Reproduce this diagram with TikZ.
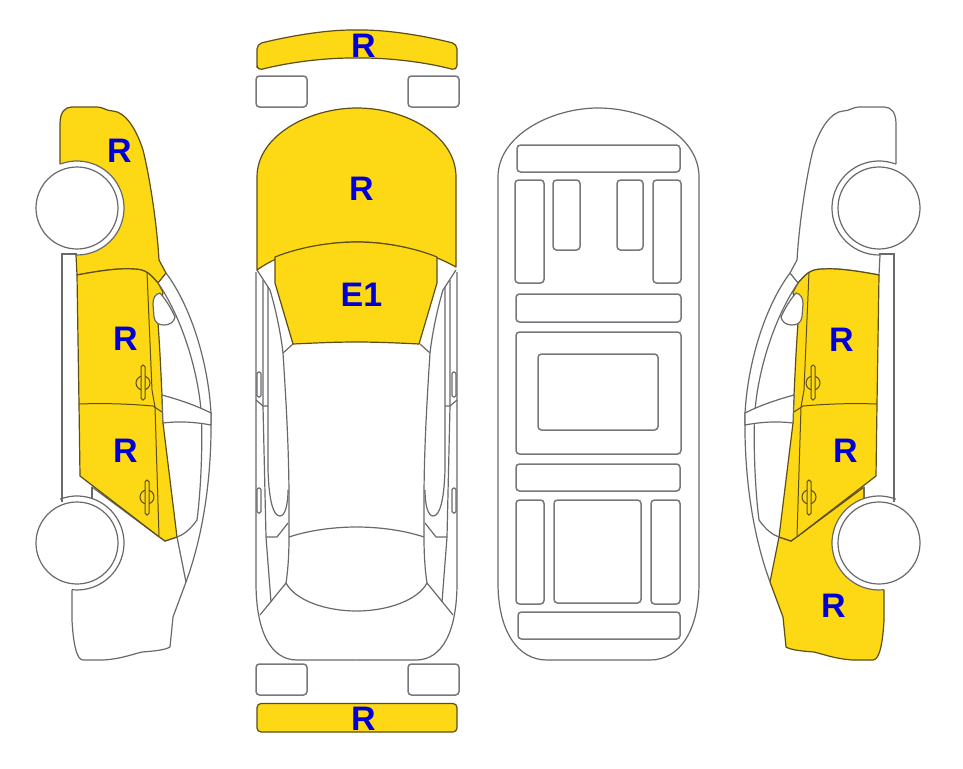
\documentclass[tikz,border=0pt]{standalone}
\usepackage{fontspec}
\newfontfamily\labelfont{Liberation Sans}
\definecolor{partyellow}{RGB}{253,216,20}
\definecolor{paintline}{RGB}{92,78,20}
\definecolor{plainline}{RGB}{105,105,108}
\definecolor{slotline}{RGB}{120,120,124}
\definecolor{labelblue}{RGB}{0,0,214}
\tikzset{
	painted/.style={fill=partyellow,draw=paintline,line width=1.2pt,line join=round},
	plain/.style={fill=white,draw=plainline,line width=1.2pt,line join=round},
	outline/.style={draw=plainline,line width=1.2pt,line join=round},
	doorline/.style={draw=paintline,line width=1pt},
	slot/.style={draw=slotline,line width=1.5pt,rounded corners=3.5pt},
	partlabel/.style={text=labelblue,font=\labelfont\bfseries\fontsize{34}{34}\selectfont,inner sep=0pt}
}
% one side view, #1 is the style of the front wing and #2 of the rear wing
\newcommand{\carside}[2]{
	\path[#1] (60,164) -- (60,124) .. controls (60,112) and (65,107) .. (72,107) -- (96,107) .. controls (104,107) and (106,111) .. (113,111) .. controls (125,112) and (136,128) .. (143,150) .. controls (150,178) and (157,225) .. (159,260) -- (166,273) -- (158,283) .. controls (150,274) and (146,269) .. (133,269) .. controls (118,268) and (98,271) .. (77,275) -- (76,255) -- cycle;
	\path[#2] (72,589) -- (72,620) .. controls (73,640) and (76,660) .. (83,660) -- (103,660) .. controls (120,659) and (130,655) .. (142,652) .. controls (155,651) and (165,650) .. (170,647) -- (173,617) -- (186,582) -- (177,537) -- (165,541) -- (158,536) -- (92,487) -- (92,498) -- cycle;
	\path[painted] (77,275) .. controls (98,271) and (118,268) .. (133,269) .. controls (146,269) and (150,274) .. (158,283) -- (163,292) -- (158,323) .. controls (160,350) and (161,375) .. (162,395) -- (163,423) -- (177,537) -- (165,541) -- (158,536) -- (80,476) -- (79,404) -- cycle;
	\draw[doorline] (79,404) .. controls (105,403) and (130,404) .. (153,406) -- (162,412);
	\draw[doorline] (147,272) -- (152,390) -- (155,407) -- (159,536);
	\draw[outline] (166,273) .. controls (190,305) and (208,360) .. (211,413) .. controls (212,470) and (205,530) .. (186,582);
	\draw[outline] (158,283) .. controls (180,315) and (197,365) .. (201,410) .. controls (203,440) and (201,490) .. (197,520) .. controls (190,530) and (183,535) .. (177,537);
	\path[plain] (160,293) .. controls (155,294) and (153,298) .. (153,304) -- (154,317) .. controls (155,323) and (159,325) .. (164,325) .. controls (170,325) and (174,322) .. (175,317) .. controls (171,308) and (166,300) .. (160,293);
	\path[plain] (162,395) .. controls (180,400) and (195,405) .. (211,413) -- (211,425) .. controls (195,422) and (180,421) .. (163,423) -- cycle;
	\foreach \cy/\sa/\sb in {208/-111/91,543/-111/96}{
		\fill[white] (77,\cy) circle (47);
		\draw[outline] (77,\cy) ++(\sa:47) arc[start angle=\sa,end angle=\sb,radius=47];
		\path[plain] (77,\cy) circle (41);
	}
	\draw[outline] (61,254) -- (77,254) (62,254) -- (62,502) (92,487) -- (92,498);
	\foreach \hx/\ya/\yb/\cy in {143/365/400/383,147/480/515/497}{
		\draw[doorline] (\hx,\cy) circle (7);
		\draw[doorline,fill=partyellow,rounded corners=1.8pt] (\hx-2,\ya) rectangle (\hx+2,\yb);
	}
}
% one half of the view from above, seen from the driver's left
\newcommand{\tophalf}{
	\draw[outline] (256,272) -- (256,583) .. controls (256,630) and (270,660) .. (297,660) -- (356.5,660);
	\draw[outline] (263,280) -- (263,406) -- (266,537) -- (271,602);
	\draw[outline] (268,287) -- (268,470) .. controls (269,500) and (273,516) .. (280,516) .. controls (285,516) and (288,505) .. (288,490);
	\draw[outline] (257,270) -- (270,290) .. controls (276,310) and (281,335) .. (283,353) .. controls (286,400) and (289,450) .. (289,500) -- (289,537) .. controls (289,555) and (288,570) .. (286,583);
	\draw[outline] (283,353) -- (293,344);
	\draw[outline] (256,400) -- (263,406) -- (268,406);
	\draw[outline] (266,537) -- (277,537) -- (288,523);
	\draw[outline] (286,583) -- (260,615);
	\draw[outline] (289,537) .. controls (310,530) and (335,527) .. (356.5,527);
	\draw[outline] (286,583) .. controls (295,600) and (325,611) .. (356.5,611);
	\draw[outline,fill=white,rounded corners=1.5pt] (257,372) rectangle (261,397);
	\draw[outline,fill=white,rounded corners=1.5pt] (257,488) rectangle (261,513);
}
\begin{document}
\begin{tikzpicture}[x=1pt,y=-1pt]
	\useasboundingbox (0,0) rectangle (963,768);

	\carside{painted}{plain}
	\begin{scope}[xshift=956pt,xscale=-1]
		\carside{plain}{painted}
	\end{scope}

	\tophalf
	\begin{scope}[xshift=713pt,xscale=-1]
		\tophalf
	\end{scope}
	\path[painted] (257,270) -- (257,177) .. controls (257,135) and (310,108) .. (357,108) .. controls (405,108) and (456,135) .. (456,177) -- (456,267) .. controls (425,250) and (390,242) .. (357,242) .. controls (325,242) and (285,250) .. (257,270) -- cycle;
	\path[painted] (275,257) .. controls (300,247) and (330,242) .. (357,242) .. controls (385,242) and (415,248) .. (437,257) -- (437,283) -- (419,344) .. controls (400,343) and (375,342) .. (357,342) .. controls (335,342) and (315,343) .. (293,344) -- (275,283) -- cycle;

	\path[painted,rounded corners=5pt] (257,70.5) -- (257,44) .. controls (290,36) and (325,30) .. (357,30) .. controls (390,30) and (425,36) .. (457,44) -- (457,70.5) .. controls (425,62) and (390,58) .. (357,58) .. controls (325,58) and (290,62) .. (257,70.5) -- cycle;
	\path[painted,rounded corners=4pt] (257,703.5) rectangle (457,732);
	\foreach \xa/\xb in {256/307,408/459}{
		\draw[slot] (\xa,76) rectangle (\xb,107);
		\draw[slot] (\xa,664) rectangle (\xb,695);
	}

	\draw[outline] (498,177) .. controls (498,135) and (552,108) .. (598,108) .. controls (646,108) and (699,135) .. (699,177) -- (699,583) .. controls (699,630) and (680,660) .. (650,660) -- (547,660) .. controls (517,660) and (498,630) .. (498,583) -- cycle;
	\foreach \xa/\ya/\xb/\yb in {517/145/680/172,515/180/544/283,553/180/580/250,617/180/643/250,653/180/681/283,516/294/681/322,516/332/681/454,538/354/658/430,516/464/680/491,516/500/544/604,554/500/641/603,651/500/680/604,518/612/680/639}{
		\draw[slot] (\xa,\ya) rectangle (\xb,\yb);
	}

	\node[partlabel] (hoodfront) at (119.5,151) {R};
	\node[partlabel] (doorfront) at (125.5,339) {R};
	\node[partlabel] (doorrear) at (125.5,451) {R};
	\node[partlabel] (bumperfront) at (363.5,46) {R};
	\node[partlabel] (bonnet) at (361.5,189) {R};
	\node[partlabel] (screen) at (361.5,295) {E1};
	\node[partlabel] (bumperrear) at (363.5,719) {R};
	\node[partlabel] (doorfrontr) at (841.5,340) {R};
	\node[partlabel] (doorrearr) at (845.5,451) {R};
	\node[partlabel] (wingrear) at (833.5,606) {R};
\end{tikzpicture}
\end{document}
